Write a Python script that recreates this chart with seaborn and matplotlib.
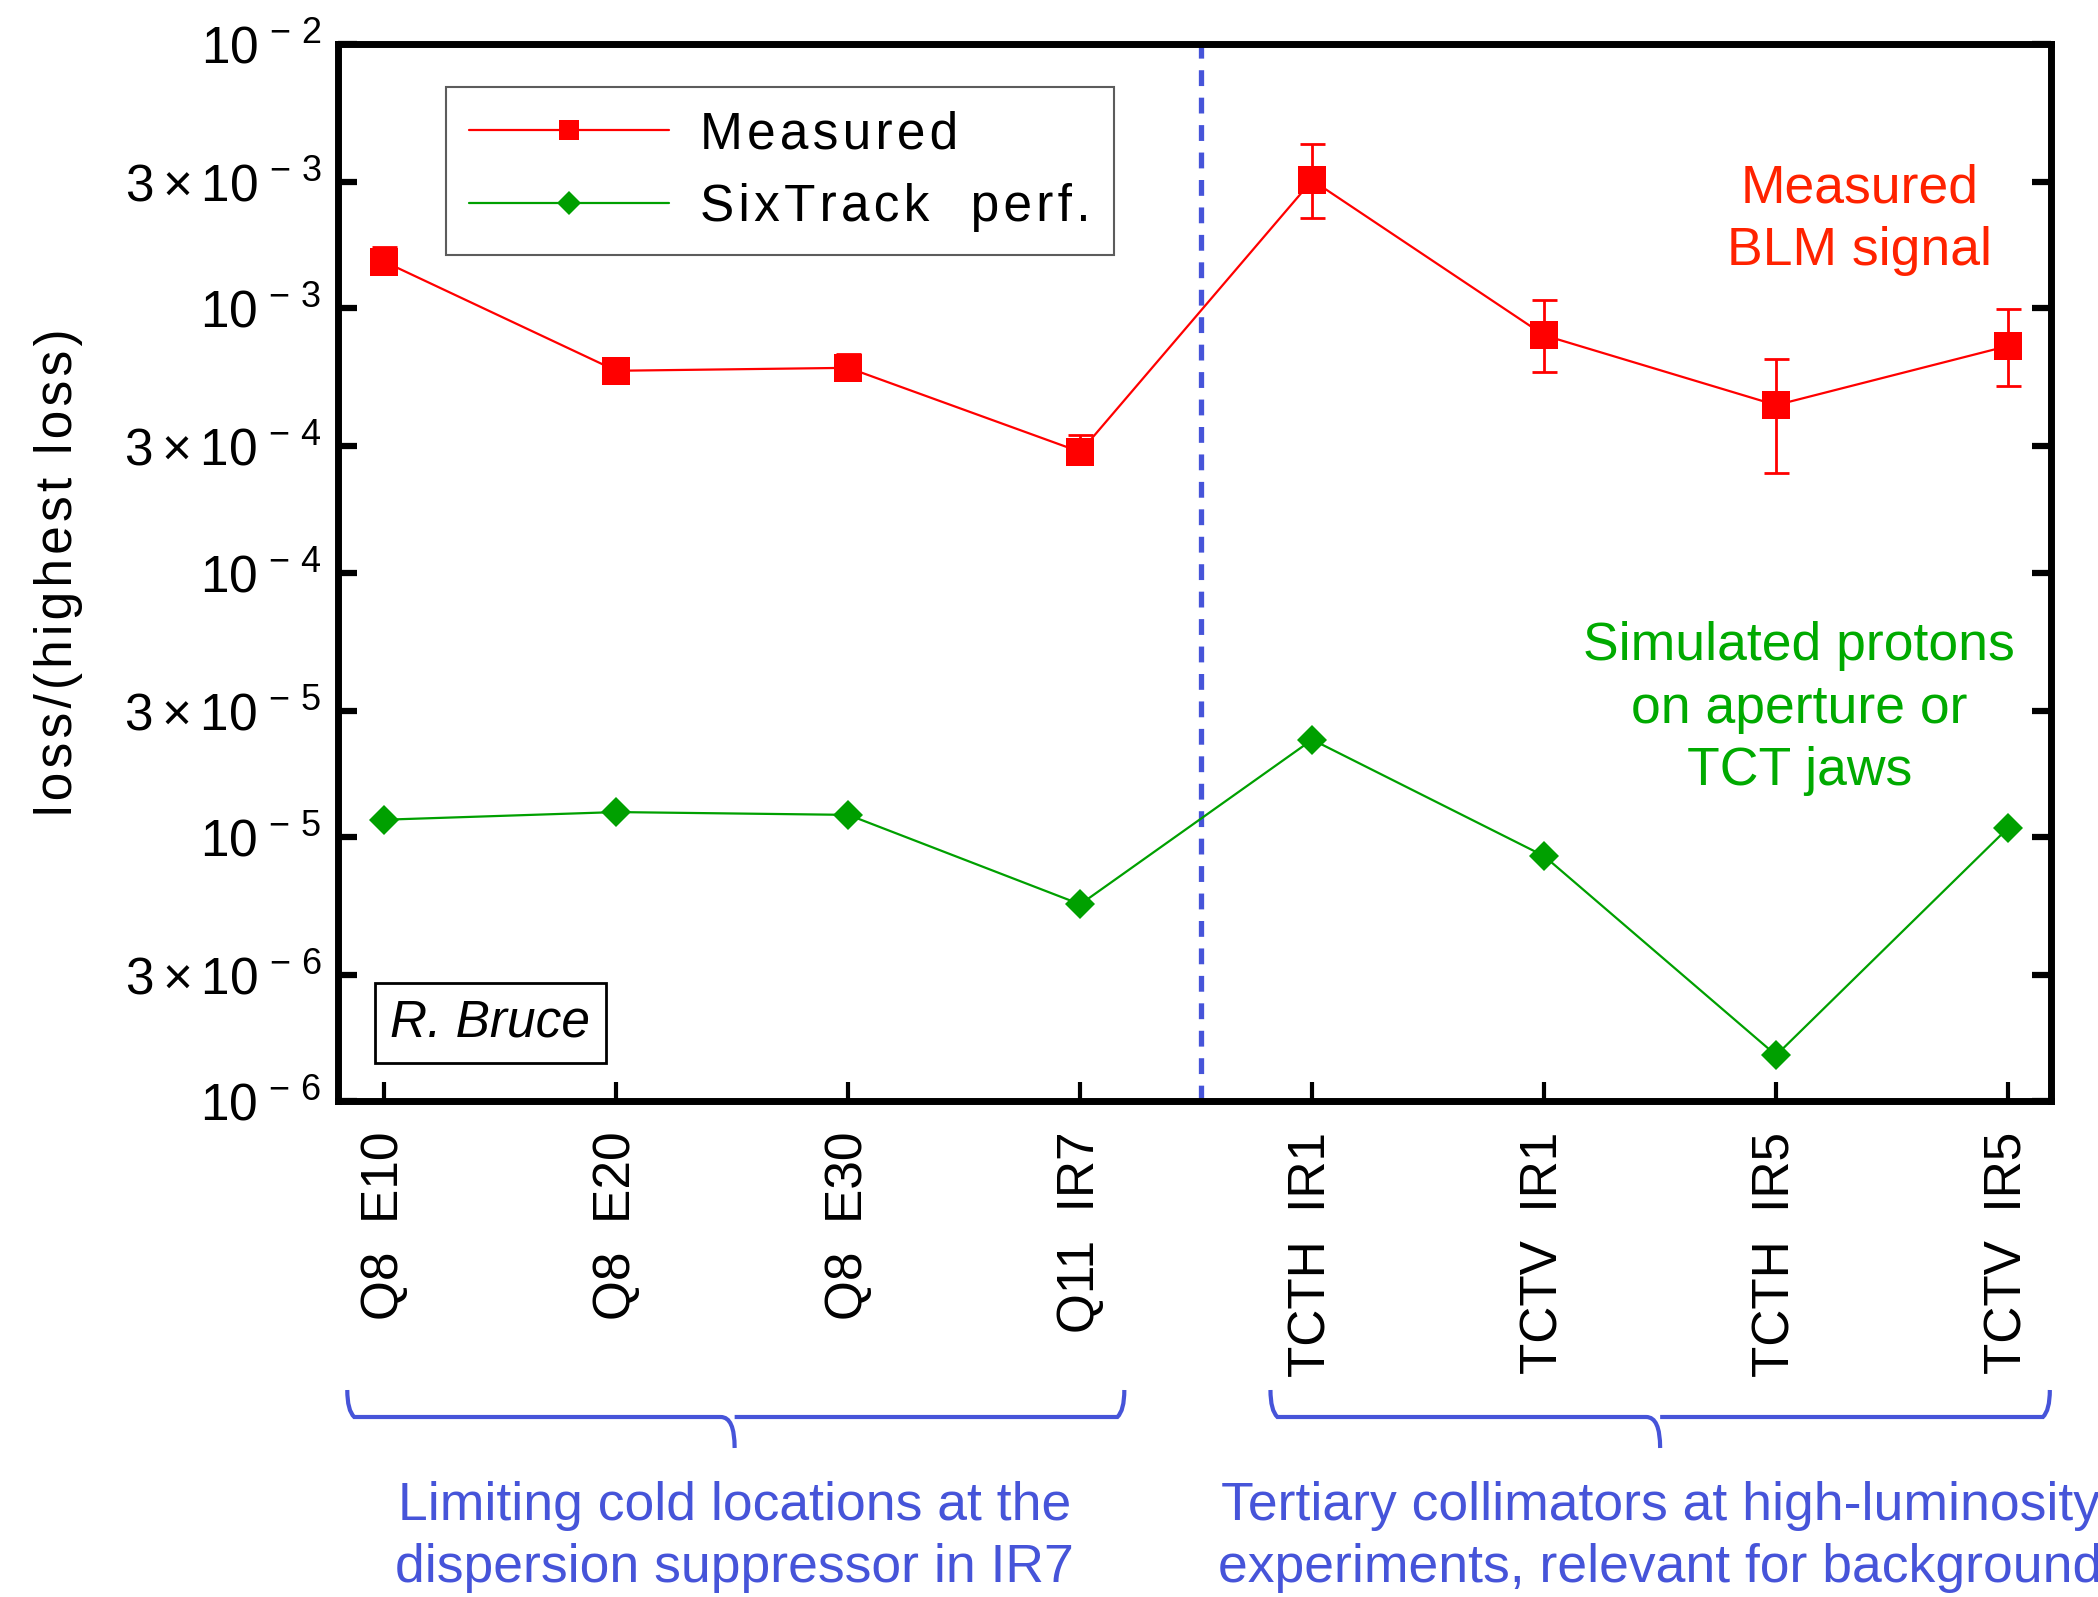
import numpy as np
import pandas as pd
import matplotlib
matplotlib.use("Agg")
import matplotlib.pyplot as plt
import matplotlib.transforms as mtransforms
from matplotlib.path import Path
from matplotlib.patches import PathPatch
from matplotlib.lines import Line2D
import seaborn as sns

# ---------------- data ----------------
categories = ["Q8  E10", "Q8  E20", "Q8  E30", "Q11  IR7",
              "TCTH  IR1", "TCTV  IR1", "TCTH  IR5", "TCTV  IR5"]
measured = [1.50e-3, 5.8e-4, 5.95e-4, 2.86e-4, 3.05e-3, 7.9e-4, 4.3e-4, 7.2e-4]
measured_err_up = [1.70e-3, 6.5e-4, 6.7e-4, 3.3e-4, 4.17e-3, 1.07e-3, 6.45e-4, 9.9e-4]
measured_err_lo = [1.35e-3, 5.3e-4, 5.4e-4, 2.6e-4, 2.2e-3, 5.75e-4, 2.39e-4, 5.06e-4]
sixtrack = [1.16e-5, 1.24e-5, 1.21e-5, 5.55e-6, 2.33e-5, 8.45e-6, 1.49e-6, 1.08e-5]
ytick_vals = [1e-6, 3e-6, 1e-5, 3e-5, 1e-4, 3e-4, 1e-3, 3e-3, 1e-2]
ytick_labels = [r"$10^{\,-\,6}$", r"$3\times10^{\,-\,6}$", r"$10^{\,-\,5}$", r"$3\times10^{\,-\,5}$",
                r"$10^{\,-\,4}$", r"$3\times10^{\,-\,4}$", r"$10^{\,-\,3}$", r"$3\times10^{\,-\,3}$",
                r"$10^{\,-\,2}$"]
legend_labels = ["Measured", "SixTrack  perf."]
y_label = "loss/(highest loss)"
group_texts = ["Limiting cold locations at the\ndispersion suppressor in IR7",
               "Tertiary collimators at high-luminosity\nexperiments, relevant for background"]

# ---------------- style ----------------
sns.set_theme(style="white")
plt.rcParams["font.family"] = ["Liberation Sans", "DejaVu Sans"]
plt.rcParams["mathtext.fontset"] = "custom"
plt.rcParams["mathtext.rm"] = "Liberation Sans"
plt.rcParams["mathtext.it"] = "Liberation Sans:italic"
plt.rcParams["mathtext.bf"] = "Liberation Sans:bold"
for k in ["text.color", "axes.labelcolor", "xtick.color", "ytick.color"]:
    plt.rcParams[k] = "black"

HAIR = "\u200a"
def spaced(s):
    return HAIR.join(s)

RED = "#ff0000"
GREEN = "#00a000"
BLUE = "#4654d9"
FS = 37
AFS = 38.5

x = np.arange(len(categories))
df = pd.DataFrame({"x": np.concatenate([x, x]),
                   "value": measured + sixtrack,
                   "series": ["Measured"] * len(x) + ["SixTrack"] * len(x)})

fig = plt.figure(figsize=(20.98, 15.97), dpi=100)
ax = fig.add_axes([338 / 2098, 1 - 1101 / 1597, (2051 - 338) / 2098, (1101 - 44) / 1597])

sns.lineplot(data=df[df.series == "Measured"], x="x", y="value", ax=ax, color=RED,
             marker="s", markersize=20, markeredgewidth=0, linewidth=1.6, legend=False, zorder=3)
sns.lineplot(data=df[df.series == "SixTrack"], x="x", y="value", ax=ax, color=GREEN,
             marker="D", markersize=15, markeredgewidth=0, linewidth=1.6, legend=False, zorder=3)

yerr = [np.array(measured) - np.array(measured_err_lo), np.array(measured_err_up) - np.array(measured)]
ax.errorbar(x, measured, yerr=yerr, fmt="none", ecolor=RED, elinewidth=2, capsize=9, capthick=2, zorder=2)

ax.axvline(3.52, color=BLUE, linestyle=(0, (3, 2.2)), linewidth=3.8, zorder=1)

ax.set_yscale("log")
ax.set_ylim(1e-6, 1e-2)
ax.set_xlim(-0.2, 7.185)
ax.set_yticks(ytick_vals)
ax.set_yticklabels(ytick_labels)
ax.yaxis.set_minor_locator(matplotlib.ticker.NullLocator())
ax.set_xticks(x)
ax.set_xticklabels(categories, rotation=90, fontsize=FS)
ax.tick_params(axis="y", which="major", direction="in", length=14, width=4.5,
               left=True, right=True, labelsize=FS, pad=12)
ax.tick_params(axis="x", which="major", direction="in", length=14, width=3,
               bottom=True, top=False, labelsize=FS, pad=22)
for s in ax.spines.values():
    s.set_linewidth(5)
    s.set_color("black")
ax.set_xlabel("")
ax.set_ylabel(spaced(y_label), fontsize=FS)
ax.yaxis.set_label_coords(-0.149, 0.5)

handles = [Line2D([], [], color=RED, marker="s", markersize=14, linewidth=1.6, markeredgewidth=0),
           Line2D([], [], color=GREEN, marker="D", markersize=12, linewidth=1.6, markeredgewidth=0)]
leg = ax.legend(handles, [spaced(l) for l in legend_labels], loc="upper left",
                bbox_to_anchor=(0.063, 0.959), borderaxespad=0, fontsize=FS, frameon=True,
                fancybox=False, handlelength=3.9, handletextpad=0.6, labelspacing=0.45,
                borderpad=0.45)
leg.get_frame().set_edgecolor("#333333")
leg.get_frame().set_linewidth(1.5)

ax.text(6.36, 2.16e-3, "Measured\nBLM signal", color="#ff2200", fontsize=AFS,
        ha="center", va="center", linespacing=1.33)
ax.text(6.10, 3.05e-5, "Simulated protons\non aperture or\nTCT jaws", color="#00aa00",
        fontsize=AFS, ha="center", va="center", linespacing=1.32)
ax.text(0.456, 1.97e-6, "R. Bruce", fontsize=FS, style="italic", ha="center", va="center",
        bbox=dict(boxstyle="square,pad=0.3", facecolor="white", edgecolor="black", linewidth=2))

# braces under the labels (x in data coordinates, y in figure coordinates)
trans = mtransforms.blended_transform_factory(ax.transData, fig.transFigure)
def brace(x0, x1, xm, ytop, ybar, ytip):
    dx = 0.03
    verts = [(x0, ytop), (x0, ybar + 0.004), (x0 + dx, ybar),
             (xm - 2 * dx, ybar), (xm, ybar), (xm, ytip),
             (xm, ybar), (xm + 2 * dx, ybar),
             (x1 - dx, ybar), (x1, ybar + 0.004), (x1, ytop)]
    codes = [Path.MOVETO, Path.CURVE3, Path.CURVE3,
             Path.LINETO, Path.CURVE3, Path.CURVE3,
             Path.MOVETO, Path.LINETO,
             Path.LINETO, Path.CURVE3, Path.CURVE3]
    p = PathPatch(Path(verts, codes), transform=trans, fill=False, edgecolor=BLUE,
                  linewidth=3, clip_on=False)
    fig.add_artist(p)

ytop = 1 - 1390 / 1597
ybar = 1 - 1417 / 1597
ytip = 1 - 1448 / 1597
brace(-0.16, 3.19, 1.51, ytop, ybar, ytip)
brace(3.82, 7.18, 5.5, ytop, ybar, ytip)

for xm, txt in zip([1.51, 5.5], group_texts):
    fig.text(xm, 1 - 1537 / 1597, txt, transform=trans, color=BLUE, fontsize=AFS,
             ha="center", va="center", linespacing=1.3)

fig.savefig("out.png", dpi=100)
